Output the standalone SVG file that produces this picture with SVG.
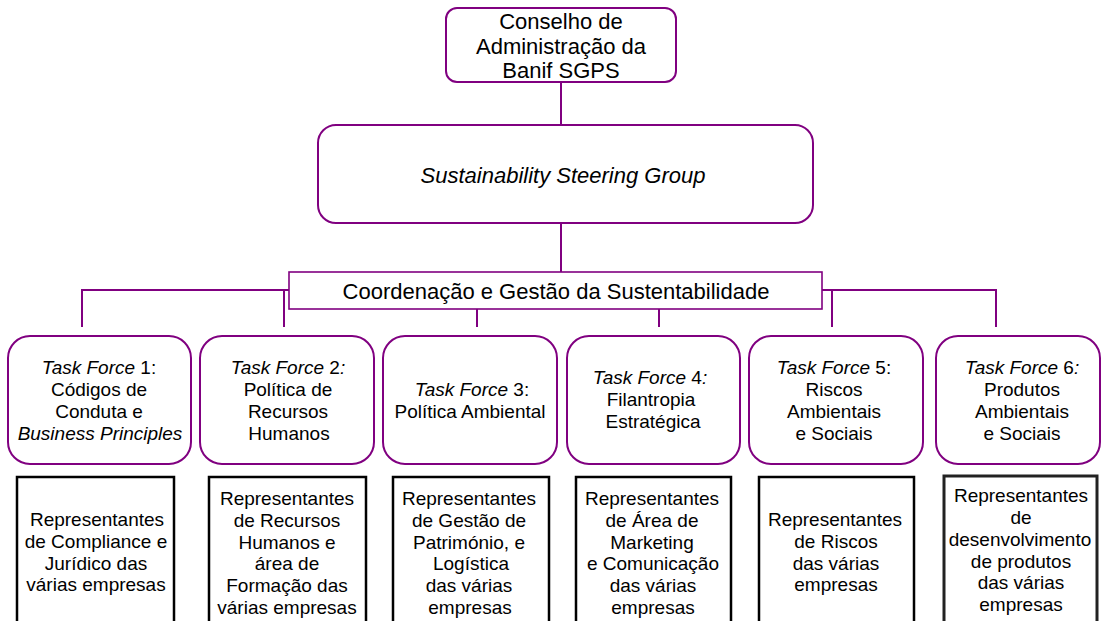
<svg xmlns="http://www.w3.org/2000/svg" width="1102" height="621" viewBox="0 0 1102 621">
<style>
.t{font-family:"Liberation Sans",Arial,sans-serif;fill:#000;text-anchor:middle}
.big{font-size:22px}
.mid{font-size:19px}
.i{font-style:italic}
.pr{fill:#fff;stroke:#800080;stroke-width:2}
.co{fill:#fff;stroke:#800080;stroke-width:1.6}
.bx{fill:#fff;stroke:#000;stroke-width:2.5}
.ln{fill:none;stroke:#800080;stroke-width:2}
</style>
<rect width="1102" height="621" fill="#fff"/>
<g id="connectors">
<path class="ln" d="M561 82V125M561 223V272"/>
<path class="ln" d="M290 290H82V327M284 290V327M477 309V327M659 309V327"/>
<path class="ln" d="M822 290H996V327M832 290V327"/>
</g>
<g id="board">
<rect class="pr" x="446" y="8" width="230" height="74" rx="11"/>
<text class="t big" x="561" y="29">Conselho de</text>
<text class="t big" x="561" y="54">Administração da</text>
<text class="t big" x="561" y="78">Banif SGPS</text>
</g>
<g id="ssg">
<rect class="pr" x="318" y="125" width="495" height="98" rx="18"/>
<text class="t big i" x="563" y="183">Sustainability Steering Group</text>
</g>
<g id="coord">
<rect class="co" x="289" y="272" width="533" height="37"/>
<text class="t big" x="556" y="299">Coordenação e Gestão da Sustentabilidade</text>
</g>
<g id="tf1">
<rect class="pr" x="8" y="336" width="183" height="128" rx="22"/>
<text class="t mid" x="99" y="374"><tspan class="i">Task Force</tspan> 1:</text>
<text class="t mid" x="99" y="396">Códigos de</text>
<text class="t mid" x="99" y="418">Conduta e</text>
<text class="t mid i" x="100" y="440">Business Principles</text>
</g>
<g id="tf2">
<rect class="pr" x="200" y="336" width="174" height="128" rx="22"/>
<text class="t mid" x="288" y="374"><tspan class="i">Task Force</tspan> 2<tspan class="i">:</tspan></text>
<text class="t mid" x="288" y="396">Política de</text>
<text class="t mid" x="288" y="418">Recursos</text>
<text class="t mid" x="289" y="440">Humanos</text>
</g>
<g id="tf3">
<rect class="pr" x="383" y="336" width="174" height="128" rx="22"/>
<text class="t mid" x="472" y="396"><tspan class="i">Task Force</tspan> 3:</text>
<text class="t mid" x="470" y="418">Política Ambiental</text>
</g>
<g id="tf4">
<rect class="pr" x="567" y="336" width="173" height="128" rx="22"/>
<text class="t mid" x="650" y="384"><tspan class="i">Task Force</tspan> 4<tspan class="i">:</tspan></text>
<text class="t mid" x="651" y="406">Filantropia</text>
<text class="t mid" x="653" y="428">Estratégica</text>
</g>
<g id="tf5">
<rect class="pr" x="749" y="336" width="174" height="128" rx="22"/>
<text class="t mid" x="834" y="374"><tspan class="i">Task Force</tspan> 5:</text>
<text class="t mid" x="834" y="396">Riscos</text>
<text class="t mid" x="834" y="418">Ambientais</text>
<text class="t mid" x="834" y="440">e Sociais</text>
</g>
<g id="tf6">
<rect class="pr" x="936" y="336" width="164" height="128" rx="22"/>
<text class="t mid" x="1022" y="374"><tspan class="i">Task Force</tspan> 6<tspan class="i">:</tspan></text>
<text class="t mid" x="1022" y="396">Produtos</text>
<text class="t mid" x="1022" y="418">Ambientais</text>
<text class="t mid" x="1022" y="440">e Sociais</text>
</g>
<g id="rep1">
<rect class="bx" x="17" y="477" width="157" height="160"/>
<text class="t mid" x="97" y="526">Representantes</text>
<text class="t mid" x="96" y="548">de Compliance e</text>
<text class="t mid" x="96" y="570">Jurídico das</text>
<text class="t mid" x="96" y="591">várias empresas</text>
</g>
<g id="rep2">
<rect class="bx" x="209" y="477" width="157" height="160"/>
<text class="t mid" x="287" y="505">Representantes</text>
<text class="t mid" x="287" y="527">de Recursos</text>
<text class="t mid" x="287" y="549">Humanos e</text>
<text class="t mid" x="287" y="570">área de</text>
<text class="t mid" x="287" y="592">Formação das</text>
<text class="t mid" x="287" y="614">várias empresas</text>
</g>
<g id="rep3">
<rect class="bx" x="393" y="477" width="156" height="160"/>
<text class="t mid" x="469" y="505">Representantes</text>
<text class="t mid" x="469" y="527">de Gestão de</text>
<text class="t mid" x="469" y="549">Património, e</text>
<text class="t mid" x="471" y="570">Logística</text>
<text class="t mid" x="469" y="592">das várias</text>
<text class="t mid" x="470" y="614">empresas</text>
</g>
<g id="rep4">
<rect class="bx" x="576" y="477" width="155" height="160"/>
<text class="t mid" x="652" y="505">Representantes</text>
<text class="t mid" x="652" y="527">de Área de</text>
<text class="t mid" x="652" y="549">Marketing</text>
<text class="t mid" x="653" y="570">e Comunicação</text>
<text class="t mid" x="653" y="592">das várias</text>
<text class="t mid" x="653" y="614">empresas</text>
</g>
<g id="rep5">
<rect class="bx" x="759" y="477" width="155" height="160"/>
<text class="t mid" x="835" y="526">Representantes</text>
<text class="t mid" x="836" y="548">de Riscos</text>
<text class="t mid" x="836" y="570">das várias</text>
<text class="t mid" x="836" y="591">empresas</text>
</g>
<g id="rep6">
<rect class="bx" x="944" y="476" width="153" height="160" style="stroke:#222;stroke-width:3"/>
<text class="t mid" x="1021" y="502">Representantes</text>
<text class="t mid" x="1021" y="524">de</text>
<text class="t mid" x="1020" y="546">desenvolvimento</text>
<text class="t mid" x="1021" y="568">de produtos</text>
<text class="t mid" x="1021" y="589">das várias</text>
<text class="t mid" x="1021" y="611">empresas</text>
</g>
</svg>
